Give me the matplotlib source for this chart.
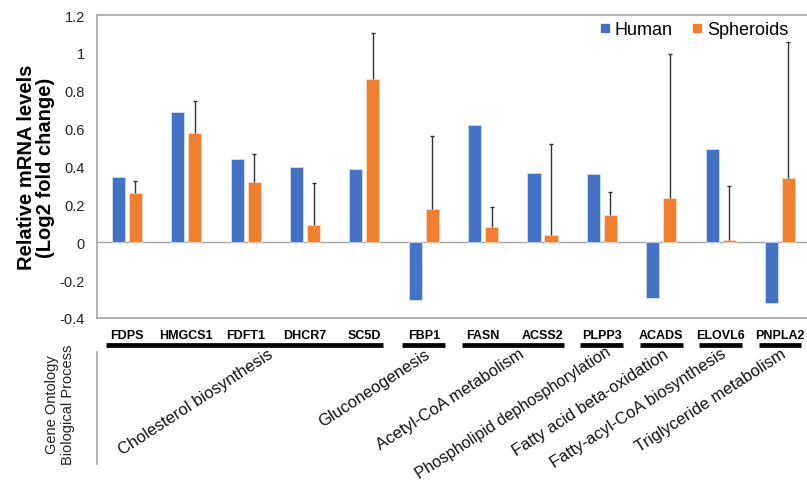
import numpy as np
import matplotlib
matplotlib.use('Agg')
import matplotlib.pyplot as plt
from matplotlib.lines import Line2D
import matplotlib.transforms as mtransforms

plt.rcParams['font.family'] = ['Liberation Sans', 'DejaVu Sans']

# -------------------------------
# data
# -------------------------------
genes = ['FDPS', 'HMGCS1', 'FDFT1', 'DHCR7', 'SC5D', 'FBP1', 'FASN',
         'ACSS2', 'PLPP3', 'ACADS', 'ELOVL6', 'PNPLA2']
human = [0.345, 0.686, 0.438, 0.399, 0.385, -0.303, 0.619,
         0.367, 0.362, -0.296, 0.494, -0.322]
spheroids = [0.26, 0.578, 0.318, 0.093, 0.863, 0.174, 0.079,
             0.039, 0.146, 0.235, 0.012, 0.338]
spheroids_err = [0.065, 0.169, 0.146, 0.222, 0.243, 0.389, 0.106,
                 0.482, 0.12, 0.757, 0.287, 0.719]

# gene ontology groups: (label, first gene index, last gene index)
go_labels = ['Cholesterol biosynthesis', 'Gluconeogenesis', 'Acetyl-CoA metabolism',
             'Phospholipid dephosphorylation', 'Fatty acid beta-oxidation',
             'Fatty-acyl-CoA biosynthesis', 'Triglyceride metabolism']
go_first = [0, 5, 6, 8, 9, 10, 11]
go_last = [4, 5, 7, 8, 9, 10, 11]

blue = '#4472C4'
orange = '#F07F30'

# -------------------------------
# plot
# -------------------------------
fig = plt.figure(figsize=(8.07, 4.85), dpi=100)
ax = fig.add_axes([0.1206, 0.3423, 0.8826, 0.6247])

x = np.arange(len(genes))
w = 0.22
ax.bar(x - 0.143, human, w, color=blue, edgecolor='#dfe6f5', linewidth=0.5, zorder=2)
ax.bar(x + 0.143, spheroids, w, color=orange, edgecolor='#fbe0cc', linewidth=0.5, zorder=2)

# upper error bars only
top = np.array(spheroids) + np.array(spheroids_err)
ax.vlines(x + 0.143, spheroids, top, color='#333333', lw=1, zorder=3)
ax.scatter(x + 0.143, top, marker='_', s=8, color='#333333', linewidths=1, zorder=3)

ax.axhline(0, color='#a6a6a6', lw=1, zorder=1)
ax.set_xlim(-0.5, 11.5)
ax.set_ylim(-0.4, 1.2)
ax.set_yticks(np.arange(-0.4, 1.21, 0.2))
ax.set_yticklabels(['-0.4', '-0.2', '0', '0.2', '0.4', '0.6', '0.8', '1', '1.2'])
ax.tick_params(axis='y', length=0, pad=9, labelsize=10.5, labelcolor='#222222')
ax.set_xticks(x)
ax.set_xticklabels(genes, fontweight='bold', fontsize=9)
ax.tick_params(axis='x', length=0, pad=8)
for s in ['left', 'top', 'bottom']:
    ax.spines[s].set_color('#a6a6a6')
    ax.spines[s].set_linewidth(1.2)
ax.spines['right'].set_visible(False)

ax.set_ylabel('Relative mRNA levels\n(Log2 fold change)', fontsize=14.5,
              fontweight='bold', linespacing=1.0)
ax.yaxis.set_label_coords(-0.06, 0.5)

handles = [Line2D([], [], marker='s', ls='none', color=blue, markersize=6),
           Line2D([], [], marker='s', ls='none', color=orange, markersize=6)]
ax.legend(handles, ['Human', 'Spheroids'], loc='upper right',
          bbox_to_anchor=(0.985, 1.015), ncol=2, frameon=False,
          fontsize=13, handlelength=0.5, handletextpad=0.3,
          columnspacing=1.1, borderaxespad=0.2)

# group bars and labels under the gene names
trans = mtransforms.blended_transform_factory(ax.transData, ax.transAxes)
label_x = [2.43, 5.07, 6.67, 8.12, 9.1, 10.07, 11.08]
label_y = [-0.112, -0.112, -0.112, -0.104, -0.112, -0.112, -0.112]
for i, lab in enumerate(go_labels):
    x0 = max(go_first[i] - 0.36, -0.5)
    x1 = go_last[i] + 0.36
    if i == 0:
        x1 = go_last[i] + 0.31
    ax.add_line(Line2D([x0, x1], [-0.09, -0.09], transform=trans, color='black',
                       lw=3.4, solid_capstyle='butt', clip_on=False))
    ax.text(label_x[i], label_y[i], lab, transform=trans, rotation=33,
            rotation_mode='anchor', ha='right', va='center',
            fontsize=11.6 if i == 3 else 12, color='#111111', clip_on=False)

fig.add_artist(Line2D([97 / 807, 97 / 807], [1 - 353 / 485, 1 - 465 / 485],
                      color='#a6a6a6', lw=1.2))
fig.text(60 / 807, 1 - 405 / 485, 'Gene Ontology\nBiological Process', rotation=90,
         ha='center', va='center', fontsize=10.5, linespacing=1.15, color='#222222')

plt.savefig('out.png', dpi=100)
